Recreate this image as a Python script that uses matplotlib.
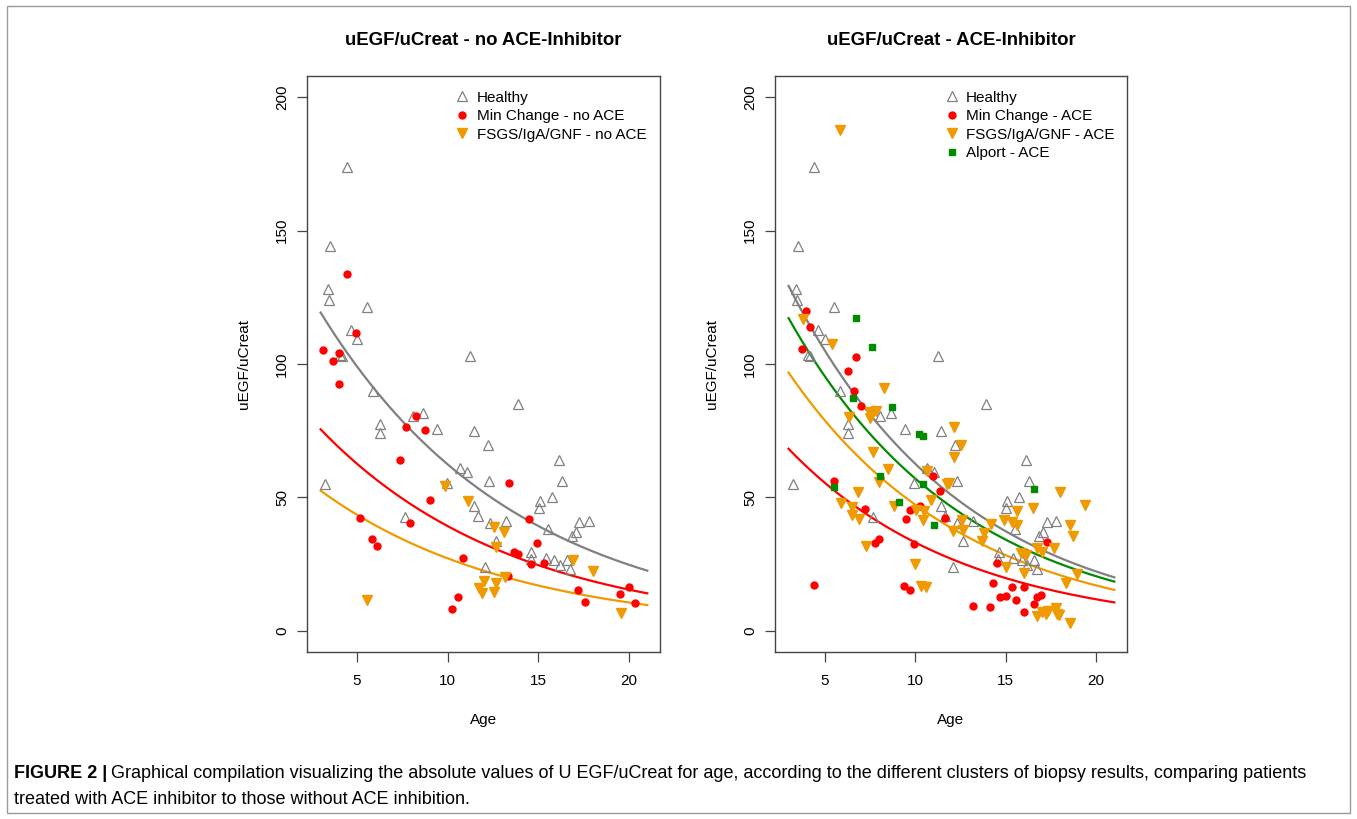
import numpy as np
import matplotlib
matplotlib.use("Agg")
import matplotlib.pyplot as plt
from matplotlib.lines import Line2D
from matplotlib.patches import Rectangle

plt.rcParams['font.family'] = ['Liberation Sans', 'DejaVu Sans']

# ---------------- data (age, uEGF/uCreat) ----------------
healthy_age = [4.43, 3.53, 3.40, 3.44, 5.53, 4.65, 5.00, 4.05, 4.20, 11.23,
               5.86, 8.07, 8.66, 6.28, 6.28, 9.41, 11.45, 10.67, 11.04, 3.25,
               9.94, 11.45, 11.65, 7.66, 13.89, 12.20, 16.13, 12.28, 16.28, 15.76,
               15.08, 15.03, 12.33, 13.21, 17.26, 17.77, 17.07, 16.83, 15.51, 12.65,
               14.60, 14.58, 15.42, 15.88, 16.17, 16.56, 16.74, 12.06]
healthy_val = [173.7, 144.4, 128.3, 124.0, 121.4, 112.8, 109.3, 103.4, 103.0, 103.0,
               89.7, 80.5, 81.8, 77.4, 74.3, 75.5, 74.8, 61.1, 59.5, 55.0,
               55.5, 46.9, 43.1, 42.6, 84.9, 69.5, 64.0, 56.2, 56.0, 50.2,
               48.7, 46.1, 40.3, 41.1, 40.9, 41.1, 37.1, 35.5, 38.1, 33.5,
               29.4, 26.9, 27.4, 26.6, 24.5, 26.4, 23.3, 23.9]

mc_noace_age = [4.45, 4.94, 3.11, 4.01, 3.66, 4.03, 8.26, 7.70, 8.77, 7.37,
                9.02, 7.94, 5.15, 5.85, 6.10, 10.83, 10.56, 10.22, 13.37, 14.46,
                14.94, 13.65, 13.89, 14.60, 15.29, 13.35, 17.17, 17.59, 19.51, 19.97,
                20.30]
mc_noace_val = [133.8, 111.5, 105.2, 104.2, 101.2, 92.6, 80.5, 76.5, 75.4, 63.9,
                49.1, 40.4, 42.3, 34.3, 31.8, 27.2, 12.8, 8.3, 55.5, 41.8,
                33.0, 29.4, 28.9, 25.1, 25.4, 20.6, 15.3, 10.8, 13.8, 16.3,
                10.4]

fsgs_noace_age = [9.87, 11.10, 5.53, 11.72, 12.57, 13.12, 12.64, 16.89, 17.99, 13.17,
                  12.00, 12.66, 11.87, 12.55, 19.57]
fsgs_noace_val = [54.4, 48.6, 11.5, 15.9, 38.8, 37.1, 31.5, 26.5, 22.4, 20.3,
                  18.8, 17.8, 14.0, 14.4, 6.8]

mc_ace_age = [3.98, 4.20, 3.74, 6.70, 6.30, 6.59, 6.98, 10.97, 5.53, 11.39,
              10.25, 7.24, 9.73, 11.65, 9.51, 8.02, 7.76, 9.95, 4.38, 9.36,
              9.73, 17.30, 14.53, 14.31, 15.36, 16.00, 14.67, 15.04, 15.54, 16.70,
              16.96, 16.56, 13.20, 14.12, 16.00]
mc_ace_val = [120.0, 113.7, 105.8, 102.8, 97.2, 90.0, 84.2, 58.0, 56.2, 52.5,
              46.8, 45.5, 45.3, 42.4, 41.8, 34.5, 33.0, 32.5, 17.0, 16.8,
              15.3, 33.4, 25.3, 17.8, 16.5, 16.5, 12.5, 13.1, 11.5, 12.8,
              13.4, 10.0, 9.4, 9.0, 7.1]

fsgs_ace_age = [5.86, 3.79, 5.40, 8.29, 7.52, 7.85, 6.34, 7.48, 7.65, 8.50,
                10.66, 7.98, 11.76, 6.81, 5.90, 8.81, 10.88, 6.51, 10.02, 10.47,
                6.51, 6.87, 10.41, 7.28, 10.01, 10.32, 10.62, 12.13, 12.55, 12.13,
                11.85, 17.99, 19.38, 15.60, 16.50, 12.59, 14.20, 14.90, 15.36, 15.63,
                18.55, 18.74, 12.09, 12.63, 13.79, 13.70, 17.66, 16.70, 17.02, 15.82,
                16.10, 14.99, 16.00, 18.96, 18.31, 16.70, 17.02, 17.20, 17.33, 17.81,
                17.75, 17.93, 18.55]
fsgs_ace_val = [187.8, 116.8, 107.5, 90.9, 82.0, 82.3, 80.3, 79.7, 67.1, 60.5,
                59.9, 55.9, 55.0, 52.0, 47.8, 46.8, 49.0, 46.5, 45.3, 45.0,
                43.4, 41.9, 41.4, 31.9, 24.9, 16.8, 16.3, 76.3, 69.5, 65.3,
                55.3, 52.0, 47.0, 44.9, 46.1, 41.5, 40.0, 41.5, 40.9, 39.6,
                39.6, 35.5, 37.5, 37.8, 36.8, 33.6, 30.9, 30.9, 29.6, 29.0,
                28.4, 24.0, 21.5, 21.2, 17.8, 5.5, 7.1, 6.3, 7.5, 6.2,
                8.4, 5.9, 3.0]

alport_age = [6.74, 7.61, 6.56, 8.72, 10.23, 10.43, 8.07, 5.49, 10.43, 9.08, 11.06, 16.56]
alport_val = [117.4, 106.2, 87.2, 83.8, 73.7, 73.1, 58.0, 53.9, 55.0, 48.4, 39.6, 53.3]

# exponential fit curves: value at the start and end age
fit_age = [3.0, 21.0]
fit_noace_healthy = [119.3, 22.5]
fit_noace_mc = [75.5, 14.0]
fit_noace_fsgs = [52.5, 9.6]
fit_ace_healthy = [129.3, 20.0]
fit_ace_alport = [117.2, 18.4]
fit_ace_fsgs = [96.8, 15.3]
fit_ace_mc = [68.2, 10.6]

x_ticks = [5, 10, 15, 20]
y_ticks = [0, 50, 100, 150, 200]

# ---------------- styles ----------------
GREY = '#808080'
RED = '#FF0000'
ORANGE = '#EE9A00'
GREEN = '#008B00'

W, H = 1357, 819
fig = plt.figure(figsize=(W / 100, H / 100), dpi=100)

# outer frame of the figure
fig.patches.append(Rectangle((7 / W, 1 - 813 / H), (1350 - 7) / W, (813 - 6) / H,
                             transform=fig.transFigure, fill=False,
                             edgecolor='#9a9a9a', linewidth=1.0))


def exp_curve(ax, vals, color):
    a0, a1 = fit_age
    ages = np.linspace(a0, a1, 200)
    y = vals[0] * (vals[1] / vals[0]) ** ((ages - a0) / (a1 - a0))
    ax.plot(ages, y, color=color, lw=1.6, zorder=2)


def style_axes(ax, title):
    ax.set_xlim(2.25, 21.7)
    ax.set_ylim(-8, 208)
    ax.set_xticks(x_ticks)
    ax.set_yticks(y_ticks)
    ax.set_yticklabels([str(v) for v in y_ticks], rotation=90, va='center')
    ax.tick_params(direction='out', length=7, width=0.9, color='#444444',
                   labelsize=11)
    ax.tick_params(axis='x', pad=9)
    ax.tick_params(axis='y', pad=6)
    for s in ax.spines.values():
        s.set_color('#444444')
        s.set_linewidth(1.0)
    ax.set_title(title, fontsize=13.4, fontweight='bold', pad=22.5)
    ax.set_xlabel('Age', fontsize=11, labelpad=18)
    ax.set_ylabel('uEGF/uCreat', fontsize=11, labelpad=17)


mk_h = dict(marker='^', ls='none', mfc='none', mec=GREY, mew=0.9, ms=7.5)
mk_r = dict(marker='o', ls='none', mfc=RED, mec=RED, ms=5)
mk_o = dict(marker='v', ls='none', mfc=ORANGE, mec=ORANGE, ms=7.5)
mk_g = dict(marker='s', ls='none', mfc=GREEN, mec=GREEN, ms=5)

leg_kw = dict(loc='upper left', frameon=False, fontsize=11, handlelength=1.0,
              handletextpad=0.45, labelspacing=0.3, borderaxespad=0.4)

# ---------- left panel ----------
axL = fig.add_axes([307 / W, 1 - 652 / H, 353 / W, 576 / H])
axL.plot(healthy_age, healthy_val, **mk_h, zorder=3)
axL.plot(mc_noace_age, mc_noace_val, **mk_r, zorder=3)
axL.plot(fsgs_noace_age, fsgs_noace_val, **mk_o, zorder=3)
exp_curve(axL, fit_noace_healthy, GREY)
exp_curve(axL, fit_noace_mc, RED)
exp_curve(axL, fit_noace_fsgs, ORANGE)
style_axes(axL, 'uEGF/uCreat - no ACE-Inhibitor')
hL = [Line2D([], [], **mk_h), Line2D([], [], **mk_r), Line2D([], [], **mk_o)]
axL.legend(hL, ['Healthy', 'Min Change - no ACE', 'FSGS/IgA/GNF - no ACE'],
           bbox_to_anchor=(0.383, 0.996), **leg_kw)

# ---------- right panel ----------
axR = fig.add_axes([775 / W, 1 - 652 / H, 352 / W, 576 / H])
axR.plot(healthy_age, healthy_val, **mk_h, zorder=3)
axR.plot(mc_ace_age, mc_ace_val, **mk_r, zorder=3)
axR.plot(fsgs_ace_age, fsgs_ace_val, **mk_o, zorder=3)
axR.plot(alport_age, alport_val, **mk_g, zorder=3)
exp_curve(axR, fit_ace_healthy, GREY)
exp_curve(axR, fit_ace_alport, GREEN)
exp_curve(axR, fit_ace_fsgs, ORANGE)
exp_curve(axR, fit_ace_mc, RED)
style_axes(axR, 'uEGF/uCreat - ACE-Inhibitor')
hR = [Line2D([], [], **mk_h), Line2D([], [], **mk_r), Line2D([], [], **mk_o),
      Line2D([], [], **mk_g)]
axR.legend(hR, ['Healthy', 'Min Change - ACE', 'FSGS/IgA/GNF - ACE', 'Alport - ACE'],
           bbox_to_anchor=(0.445, 0.996), **leg_kw)

# ---------- caption ----------
CAP = 13.0
cap_y1 = 1 - 773 / H
cap_y2 = 1 - 800 / H
t1 = fig.text(14 / W, cap_y1, 'FIGURE 2 |', fontsize=CAP, fontweight='bold',
              va='center', ha='left')
fig.canvas.draw()
bb = t1.get_window_extent()
fig.text((bb.x1 + 4) / W, cap_y1,
         'Graphical compilation visualizing the absolute values of U EGF/uCreat for age, '
         'according to the different clusters of biopsy results, comparing patients',
         fontsize=CAP, va='center', ha='left')
fig.text(14 / W, cap_y2, 'treated with ACE inhibitor to those without ACE inhibition.',
         fontsize=CAP, va='center', ha='left')

fig.savefig('out.png', dpi=100)
